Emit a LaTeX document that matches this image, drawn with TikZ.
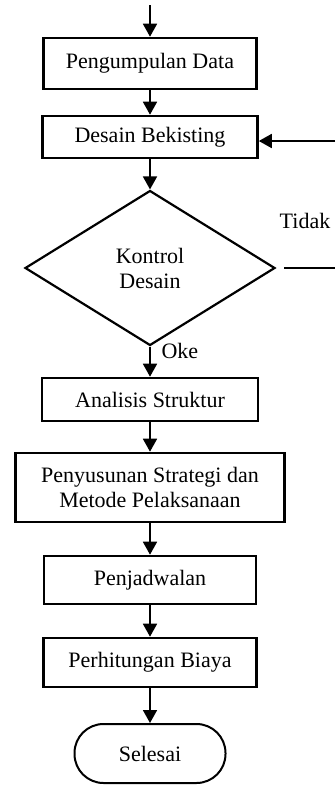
\documentclass[tikz,border=0pt]{standalone}
\usepackage{fontspec}
\setmainfont{Liberation Serif}
\usetikzlibrary{shapes.geometric,arrows.meta}
\begin{document}
\begin{tikzpicture}[x=1pt,y=-1pt,
  font=\fontsize{22}{25}\selectfont,
  box/.style={draw,line width=2.6pt,inner sep=0pt,align=center},
  flow/.style={line width=1.8pt,-{Triangle[width=14pt,length=13pt]}}]
\useasboundingbox (0,0) rectangle (335,785);

\coordinate (start) at (150,5);
\node[box,minimum width=213pt,minimum height=51pt] (data) at (150,63.5) {Pengumpulan Data};
\node[box,minimum width=215pt,minimum height=42pt] (desain) at (150,137) {\raisebox{-4pt}{Desain Bekisting}};
\node[draw,diamond,line width=2.2pt,inner sep=0pt,align=center,
  minimum width=250pt,minimum height=155pt] (kontrol) at (150,268) {Kontrol\\Desain};
\node[box,minimum width=216pt,minimum height=43pt] (analisis) at (150,399.5) {Analisis Struktur};
\node[box,minimum width=269pt,minimum height=69pt] (strategi) at (150,487.5) {Penyusunan Strategi dan\\Metode Pelaksanaan};
\node[box,minimum width=212pt,minimum height=48pt] (jadwal) at (150,580) {Penjadwalan};
\node[box,minimum width=213pt,minimum height=49pt] (biaya) at (150,662.5) {Perhitungan Biaya};
\node[draw,line width=2pt,rounded corners=29pt,minimum width=151pt,minimum height=59pt] (selesai) at (150,753.5) {Selesai};

% jalur utama
\draw[flow] (start) -- (data);
\draw[flow] (data) -- (desain);
\draw[flow] (desain) -- (kontrol);
\draw[flow] (kontrol) -- (analisis);
\draw[flow] (analisis) -- (strategi);
\draw[flow] (strategi) -- (jadwal);
\draw[flow] (jadwal) -- (biaya);
\draw[flow] (biaya) -- (selesai);
\node[anchor=west] (oke) at (158,351) {Oke};

% kembali ke desain
\coordinate (tidakout) at (335,268);
\coordinate (tidakin) at (335,141);
\draw[line width=1.6pt] ([xshift=8pt]kontrol.east) -- (tidakout);
\draw[flow] (tidakin) -- (tidakin -| desain.east);
\node (tidak) at (305,221) {Tidak};
\end{tikzpicture}
\end{document}
